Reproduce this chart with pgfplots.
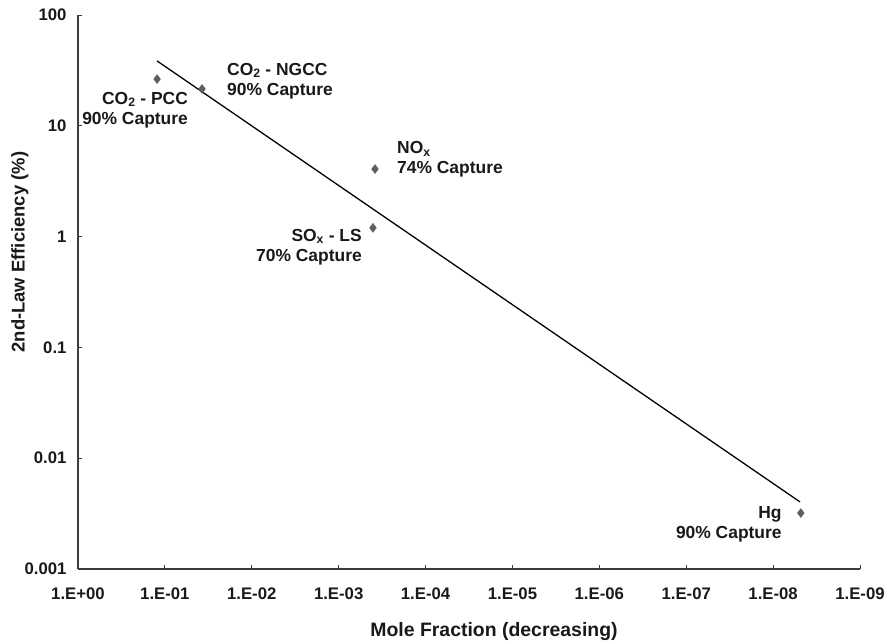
\documentclass[border=0pt]{standalone}
\usepackage{fontspec}
\setmainfont{Liberation Sans}
\usepackage{pgfplots}
\pgfplotsset{compat=1.18}
\definecolor{axgray}{RGB}{60,60,60}
\definecolor{mkgray}{RGB}{95,95,95}
\definecolor{txt}{RGB}{25,25,25}
\begin{document}
\begin{tikzpicture}
\useasboundingbox (-78bp,-74bp) rectangle (811bp,569bp);
\begin{axis}[
  scale only axis,
  width=782bp, height=554bp,
  xmode=log, ymode=log, x dir=reverse,
  xmin=1e-9, xmax=1, ymin=1e-3, ymax=100,
  axis x line=bottom, axis y line=left,
  axis line style={-, color=axgray, line width=1.1pt},
  xtick={1,1e-1,1e-2,1e-3,1e-4,1e-5,1e-6,1e-7,1e-8,1e-9},
  xticklabels={1.E+00,1.E-01,1.E-02,1.E-03,1.E-04,1.E-05,1.E-06,1.E-07,1.E-08,1.E-09},
  ytick={1e-3,1e-2,1e-1,1,10,100},
  yticklabels={0.001,0.01,0.1,1,10,100},
  xminorticks=false, yminorticks=false,
  tick align=inside, major tick length=4bp,
  tick style={color=axgray, line width=0.8pt},
  x tick label style={font=\fontsize{16.8}{18}\selectfont\bfseries, text=txt, yshift=-15bp},
  y tick label style={font=\fontsize{16.8}{18}\selectfont\bfseries, text=txt, xshift=-8bp},
  xlabel={Mole Fraction (decreasing)},
  ylabel={2nd-Law Efficiency (\%)},
  xlabel style={at={(axis description cs:0.532,-0.1137)}, anchor=center, font=\fontsize{19.5}{22}\selectfont\bfseries, text=txt},
  ylabel style={at={(axis description cs:-0.0742,0.572)}, anchor=center, rotate=0, font=\fontsize{18.5}{22}\selectfont\bfseries, text=txt},
  clip=false,
]
\addplot[only marks, mark=diamond*, mark size=4.5bp, color=mkgray] coordinates {
  (0.123,26.4) (0.0374,21.5) (3.82e-4,4.07) (4.03e-4,1.20) (4.8e-9,0.0032)
};
\addplot[black, line width=1.3pt] coordinates {(0.123,38.5) (4.9e-9,0.00403)};
\tikzset{lbl/.style={font=\fontsize{17.5}{20}\selectfont\bfseries, text=txt, inner sep=0pt}}
\node[lbl, anchor=east, align=right, xshift=31bp, yshift=-31bp] at (axis cs:0.123,26.4) {CO\textsubscript{2} - PCC\\90\% Capture};
\node[lbl, anchor=west, align=left, xshift=25bp, yshift=8bp] at (axis cs:0.0374,21.5) {CO\textsubscript{2} - NGCC\\90\% Capture};
\node[lbl, anchor=west, align=left, xshift=22bp, yshift=9.5bp] at (axis cs:3.82e-4,4.07) {NO\textsubscript{x}\\74\% Capture};
\node[lbl, anchor=east, align=right, xshift=-11bp, yshift=-19bp] at (axis cs:4.03e-4,1.20) {SO\textsubscript{x} - LS\\70\% Capture};
\node[lbl, anchor=east, align=right, xshift=-19bp, yshift=-11bp] at (axis cs:4.8e-9,0.0032) {Hg\\90\% Capture};
\end{axis}
\end{tikzpicture}
\end{document}
